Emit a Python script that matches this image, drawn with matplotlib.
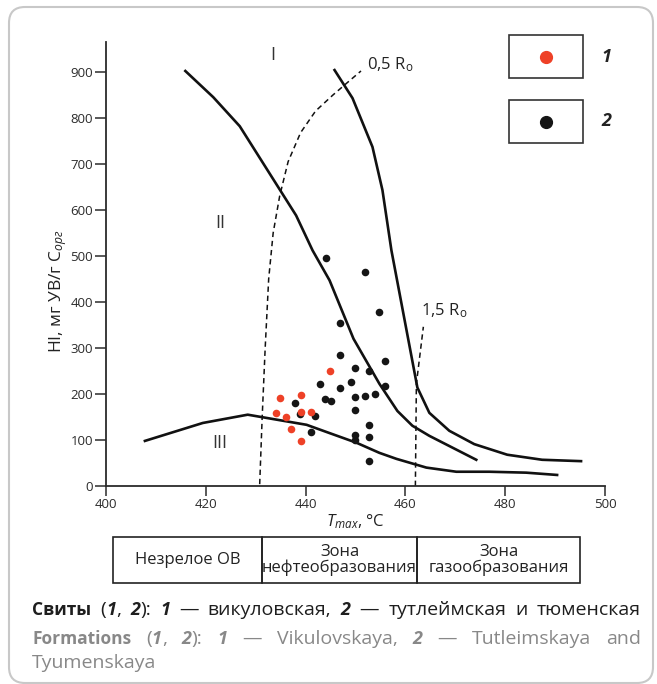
import matplotlib
matplotlib.use('agg')

import matplotlib.pyplot as plt
from matplotlib.patches import Rectangle, FancyBboxPatch
from matplotlib.lines import Line2D

plt.rcParams['font.family'] = ['Open Sans', 'DejaVu Sans']
plt.rcParams['mathtext.fontset'] = 'custom'
plt.rcParams['mathtext.rm'] = 'Open Sans'
plt.rcParams['mathtext.it'] = 'Open Sans:italic'
plt.rcParams['mathtext.bf'] = 'Open Sans:bold'

# --- data (Tmax, HI) ---
red_t = [444.9, 434.9, 439.1, 434.0, 436.0, 439.1, 441.0, 437.0, 439.1]
red_hi = [250, 191, 198, 158, 151, 161, 160, 123, 97]

black_t = [444.0, 451.9, 454.8, 446.9, 446.9, 456.0, 449.9, 452.8, 442.9,
           449.0, 446.9, 456.0, 449.9, 451.9, 454.0, 443.9, 445.0, 437.8,
           449.9, 438.9, 441.9, 452.8, 441.0, 449.9, 452.8, 449.9, 452.8]
black_hi = [496, 465, 379, 354, 285, 271, 256, 249, 222,
            227, 214, 218, 194, 196, 200, 189, 184, 181,
            166, 156, 153, 133, 118, 110, 107, 100, 54]

# boundary I / II
b1_t = [415.9, 421.5, 426.8, 438.1, 441.4, 444.8, 449.6, 454.8, 458.4, 461.4, 464.8, 474.2]
b1_hi = [902, 845, 782, 588, 512, 447, 320, 222, 163, 131, 109, 57]
# right boundary
b2_t = [445.8, 449.4, 453.4, 455.4, 457.2, 462.4, 464.8, 468.8, 473.8, 480.4, 487.4, 495.2]
b2_hi = [904, 843, 737, 643, 512, 214, 159, 120, 91, 68, 57, 54]
# boundary III
b3_t = [407.8, 419.4, 428.4, 440.2, 444.8, 450.2, 454.8, 458.2, 464.2, 470.2, 476.8, 484.2, 490.4]
b3_hi = [98, 137, 155, 133, 115, 94, 72, 59, 40, 31, 31, 29, 24]
# 0,5 Ro isoline
r05_t = [430.8, 431.3, 431.9, 432.6, 433.5, 434.8, 436.5, 439.0, 442.0, 445.5, 448.5, 451.1]
r05_hi = [4, 150, 300, 450, 550, 630, 705, 768, 815, 850, 878, 902]
# 1,5 Ro isoline
r15_t = [462.0, 462.2, 463.6]
r15_hi = [0, 222, 346]

zones = ['Незрелое ОВ', 'Зона\nнефтеобразования', 'Зона\nгазообразования']

W, H = 657, 684
fig = plt.figure(figsize=(W / 100, H / 100), dpi=100)


def fx(x):
    return x / W


def fy(y):
    return 1 - y / H


ax = fig.add_axes([fx(106), fy(486), (605 - 106) / W, (486 - 42) / H])
axcol = '#2b2b2b'
ax.plot(b1_t, b1_hi, color='#111111', lw=1.9, solid_joinstyle='round')
ax.plot(b2_t, b2_hi, color='#111111', lw=1.9, solid_joinstyle='round')
ax.plot(b3_t, b3_hi, color='#111111', lw=1.9, solid_joinstyle='round')
ax.plot(r05_t, r05_hi, color='#111111', lw=1.1, dashes=(3.5, 2.5))
ax.plot(r15_t, r15_hi, color='#111111', lw=1.1, dashes=(3.5, 2.5))
ax.scatter(black_t, black_hi, s=30, color='#151515', zorder=3, linewidths=0)
ax.scatter(red_t, red_hi, s=30, color='#ee4127', zorder=4, linewidths=0)

ax.text(452.4, 915, '0,5 R$_{\\rm o}$', fontsize=12, va='center', ha='left', color='#222222')
ax.text(463.2, 381, '1,5 R$_{\\rm o}$', fontsize=12, va='center', ha='left', color='#222222')
ax.text(433.4, 937, 'I', fontsize=13, ha='center', va='center', color='#333333')
ax.text(422.8, 571, 'II', fontsize=13, ha='center', va='center', color='#333333')
ax.text(422.8, 94, 'III', fontsize=13, ha='center', va='center', color='#333333')

ax.set_xlim(400, 500)
ax.set_ylim(0, 965)
ax.set_xticks(range(400, 501, 20))
ax.set_yticks(range(0, 901, 100))
for s in ['top', 'right']:
    ax.spines[s].set_visible(False)
for s in ['left', 'bottom']:
    ax.spines[s].set_color(axcol)
    ax.spines[s].set_linewidth(1.3)
ax.tick_params(axis='y', length=8, width=1.1, pad=1.5, labelsize=9.5, colors=axcol)
ax.tick_params(axis='x', length=7, width=1.1, pad=1.5, labelsize=9.5, colors=axcol)
ax.set_xlabel('$T_{max}$, °C', fontsize=12, color='#222222', labelpad=1)
ax.set_ylabel('HI, мг УВ/г C$_{орг}$', fontsize=12.5, color='#222222')
ax.yaxis.set_label_coords(-0.075, 0.44)

# legend boxes
for (y0, y1), col, lab in [((35, 78), '#ee4127', '1'), ((100, 143), '#151515', '2')]:
    fig.add_artist(Rectangle((fx(509), fy(y1)), (583 - 509) / W, (y1 - y0) / H,
                             transform=fig.transFigure, fill=False,
                             edgecolor='#333333', lw=1.2))
    yc = (y0 + y1) / 2
    fig.add_artist(Line2D([fx(546)], [fy(yc)], transform=fig.transFigure,
                          marker='o', markersize=8.5, color=col, lw=0))
    fig.text(fx(606), fy(yc), lab, fontsize=13, fontweight='bold', fontstyle='italic',
             ha='center', va='center', color='#222222')

# zone table
edges = [113, 262, 417, 580]
for i, z in enumerate(zones):
    fig.add_artist(Rectangle((fx(edges[i]), fy(583)), (edges[i + 1] - edges[i]) / W,
                             (583 - 537) / H, transform=fig.transFigure, fill=False,
                             edgecolor='#222222', lw=1.2))
    fig.text(fx((edges[i] + edges[i + 1]) / 2), fy(560), z, fontsize=12,
             ha='center', va='center', linespacing=0.95, color='#222222')

# caption lines built piece by piece
renderer = fig.canvas.get_renderer()
N = {'fontsize': 14}
B = {'fontsize': 12.5, 'fontweight': 'bold'}
BI = {'fontsize': 13, 'fontweight': 'bold', 'fontstyle': 'italic'}


def width(s, kw):
    t1 = fig.text(0, 0, '|' + s + '|', **kw)
    t2 = fig.text(0, 0, '||', **kw)
    w = t1.get_window_extent(renderer).width - t2.get_window_extent(renderer).width
    t1.remove()
    t2.remove()
    return w


def caption(tokens, x0, ybase, color, right=None):
    words = [width(w, kw) for w, kw, sp in tokens]
    nsp = sum(1 for w, kw, sp in tokens[:-1] if sp)
    spw = width(' ', N)
    if right is not None and nsp:
        spw = (right - x0 - sum(words)) / nsp
    x = x0
    for (w, kw, sp), ww in zip(tokens, words):
        fig.text(fx(x), fy(ybase), w, va='baseline', ha='left', color=color, **kw)
        x += ww + (spw if sp else 0)


ru_tokens = [('Свиты', B, True), ('(', N, False), ('1', BI, False), (',', N, True),
             ('2', BI, False), ('):', N, True), ('1', BI, True), ('—', N, True),
             ('викуловская,', N, True), ('2', BI, True), ('—', N, True),
             ('тутлеймская', N, True), ('и', N, True), ('тюменская', N, False)]
en_tokens = [('Formations', B, True), ('(', N, False), ('1', BI, False), (',', N, True),
             ('2', BI, False), ('):', N, True), ('1', BI, True), ('—', N, True),
             ('Vikulovskaya,', N, True), ('2', BI, True), ('—', N, True),
             ('Tutleimskaya', N, True), ('and', N, False)]
caption(ru_tokens, 32, 615, '#1e1e1e', right=641)
caption(en_tokens, 32, 644, '#888888', right=641)
caption([('Tyumenskaya', N, False)], 32, 668, '#888888')

# rounded frame
fig.add_artist(FancyBboxPatch((0.09, 0.01), 6.44, 6.76,
                              boxstyle='round,pad=0,rounding_size=0.16',
                              transform=fig.dpi_scale_trans, fill=False,
                              edgecolor='#c8c8c8', lw=1.5))

fig.savefig('out.png', dpi=100)
